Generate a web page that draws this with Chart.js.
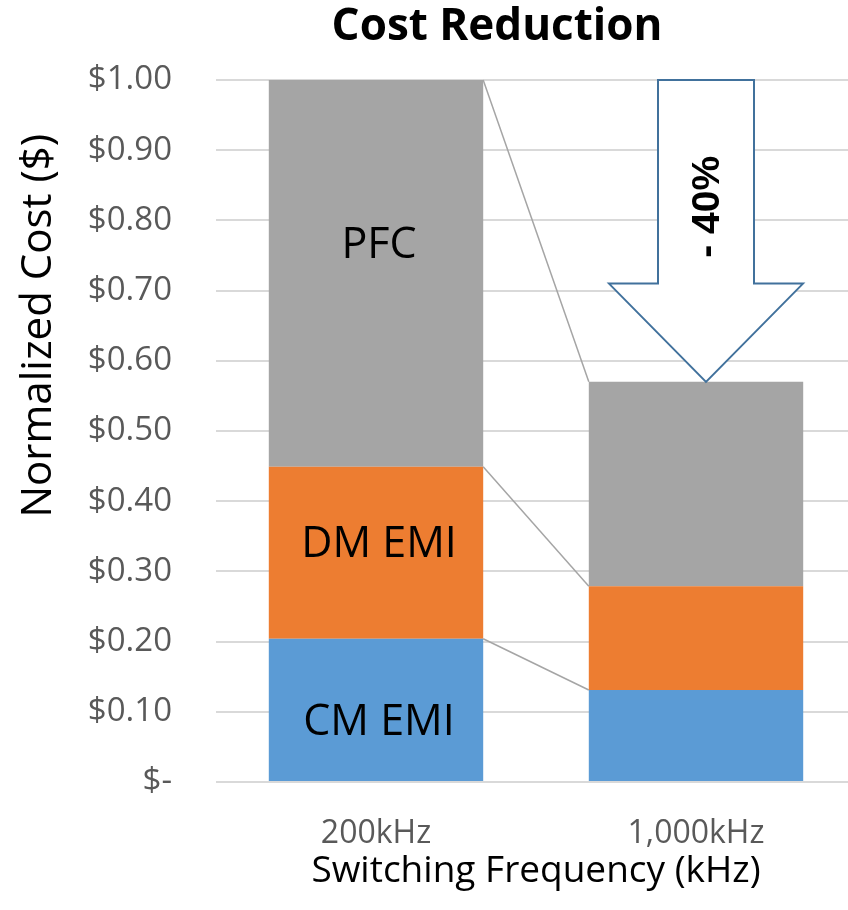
<!DOCTYPE html>
<html>
<head>
<meta charset="utf-8">
<script src="https://cdn.jsdelivr.net/npm/chart.js@4"></script>
<style>
  body { margin: 0; background: #fff; }
  #wrap { width: 848px; height: 910px; }
</style>
</head>
<body>
<div id="wrap"><canvas id="costChart"></canvas></div>
<script>
// categories and series
var frequencies = ['200kHz', '1,000kHz'];
var cmEmi = [0.204, 0.131];
var dmEmi = [0.245, 0.148];
var pfc = [0.551, 0.291];
var seriesNames = ['CM EMI', 'DM EMI', 'PFC'];
var reductionText = '- 40%';
var chartTitle = 'Cost Reduction';
var yAxisTitle = 'Normalized Cost ($)';

var FONT = '"Open Sans", Lato, sans-serif';

// plot area runs a little past the right edge in the original
var widenPlot = {
    id: 'widenPlot',
    afterLayout: function(chart) {
        var x = chart.scales.x;
        x.right += 8;
        x.width += 8;
        chart.chartArea.right += 8;
        chart.chartArea.width += 8;
        x.configure();
    }
};

// gray connector lines between the stacks + text inside first bar
var seriesLines = {
    id: 'seriesLines',
    afterDatasetsDraw: function(chart) {
        var ctx = chart.ctx;
        ctx.save();
        ctx.strokeStyle = '#a5a5a5';
        ctx.lineWidth = 1.5;
        chart.data.datasets.forEach(function(ds, i) {
            var bars = chart.getDatasetMeta(i).data;
            ctx.beginPath();
            ctx.moveTo(bars[0].x + bars[0].width / 2, bars[0].y);
            ctx.lineTo(bars[1].x - bars[1].width / 2, bars[1].y);
            ctx.stroke();
        });
        // labels on the first bar
        ctx.fillStyle = '#000';
        ctx.font = '43px ' + FONT;
        ctx.textAlign = 'center';
        ctx.textBaseline = 'middle';
        var shift = [13, -8, -28];
        chart.data.datasets.forEach(function(ds, i) {
            var b = chart.getDatasetMeta(i).data[0];
            ctx.fillText(seriesNames[i], b.x + 3, (b.y + b.base) / 2 + shift[i]);
        });
        ctx.restore();
    }
};

// down arrow over the second bar, titles
var reductionArrow = {
    id: 'reductionArrow',
    afterDraw: function(chart) {
        var ctx = chart.ctx;
        var y = chart.scales.y;
        var bars = chart.getDatasetMeta(2).data;
        var cx = bars[1].x + 10;
        var top = y.getPixelForValue(1.0);
        var tip = bars[1].y;
        var headY = y.getPixelForValue(0.71);
        var sw = 48, hw = 97;
        ctx.save();
        ctx.beginPath();
        ctx.moveTo(cx - sw, top);
        ctx.lineTo(cx + sw, top);
        ctx.lineTo(cx + sw, headY);
        ctx.lineTo(cx + hw, headY);
        ctx.lineTo(cx, tip);
        ctx.lineTo(cx - hw, headY);
        ctx.lineTo(cx - sw, headY);
        ctx.closePath();
        ctx.fillStyle = '#fff';
        ctx.fill();
        ctx.strokeStyle = '#41719c';
        ctx.lineWidth = 2;
        ctx.stroke();
        ctx.translate(cx + 2, (top + headY) / 2 + 25);
        ctx.rotate(-Math.PI / 2);
        ctx.fillStyle = '#000';
        ctx.font = 'bold 39px "Liberation Sans", Arial, sans-serif';
        ctx.textAlign = 'center';
        ctx.textBaseline = 'middle';
        ctx.fillText(reductionText, 0, 0);
        ctx.restore();

        // chart title, offset right like the original
        ctx.save();
        ctx.fillStyle = '#000';
        ctx.font = 'bold 44px ' + FONT;
        ctx.textAlign = 'center';
        ctx.textBaseline = 'middle';
        ctx.fillText(chartTitle, 497, 27);
        ctx.restore();

        // y axis title (sits a bit above the plot middle, like the original)
        ctx.save();
        ctx.translate(39, chart.chartArea.top + chart.chartArea.height * 0.35);
        ctx.rotate(-Math.PI / 2);
        ctx.fillStyle = '#000';
        ctx.font = '42px ' + FONT;
        ctx.textAlign = 'center';
        ctx.textBaseline = 'middle';
        ctx.fillText(yAxisTitle, 0, 0);
        ctx.restore();
    }
};

var ctx = document.getElementById('costChart').getContext('2d');
var costChart = new Chart(ctx, {
    type: 'bar',
    data: {
        labels: frequencies,
        datasets: [
            { label: seriesNames[0], data: cmEmi, backgroundColor: '#5b9bd5' },
            { label: seriesNames[1], data: dmEmi, backgroundColor: '#ed7d31' },
            { label: seriesNames[2], data: pfc, backgroundColor: '#a5a5a5' }
        ]
    },
    options: {
        responsive: true,
        maintainAspectRatio: false,
        animation: false,
        layout: { padding: { top: 80, right: 0, left: 0, bottom: 0 } },
        datasets: { bar: { categoryPercentage: 1, barPercentage: 0.67 } },
        plugins: {
            legend: { display: false },
            tooltip: { enabled: false },
            title: { display: false }
        },
        scales: {
            x: {
                stacked: true,
                grid: { display: false },
                border: { display: false },
                ticks: { color: '#595959', font: { family: FONT, size: 32 }, padding: 25 },
                title: {
                    display: true,
                    text: 'Switching Frequency (kHz)',
                    color: '#000',
                    font: { family: FONT, size: 37 },
                    padding: { top: 0, bottom: 16 }
                },
                afterFit: function(scale) { scale.height = 128; }
            },
            y: {
                stacked: true,
                min: 0,
                max: 1,
                grid: { color: '#d9d9d9', lineWidth: 2, drawTicks: false },
                border: { display: false },
                ticks: {
                    stepSize: 0.1,
                    color: '#595959',
                    font: { family: FONT, size: 33 },
                    padding: 44,
                    callback: function(v) {
                        return v === 0 ? '$-' : '$' + v.toFixed(2);
                    }
                },
                afterFit: function(scale) { scale.width = 216; }
            }
        }
    },
    plugins: [widenPlot, seriesLines, reductionArrow]
});
</script>
</body>
</html>
